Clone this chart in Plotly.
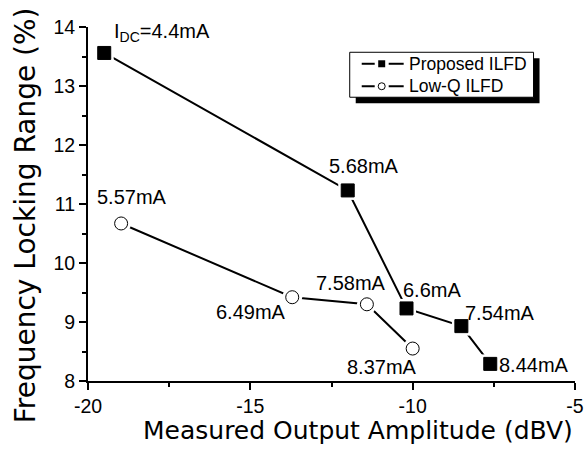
import plotly.graph_objects as go

# Measured data: output amplitude (dBV) vs. frequency locking range (%)
prop_amp = [-19.5, -12.0, -10.19, -8.5, -7.61]
prop_range = [13.56, 11.23, 9.23, 8.93, 8.29]
prop_idc = ["I<sub>DC</sub>=4.4mA", "5.68mA", "6.6mA", "7.54mA", "8.44mA"]

lowq_amp = [-18.98, -13.71, -11.41, -10.0]
lowq_range = [10.67, 9.42, 9.30, 8.55]
lowq_idc = ["5.57mA", "6.49mA", "7.58mA", "8.37mA"]

x_ticks = [-20, -15, -10, -5]
x_ticktext = ["-20", "-15", "-10", "-5"]
y_ticks = [8, 9, 10, 11, 12, 13, 14]
y_ticktext = ["8", "9", "10", "11", "12", "13", "14"]

series_names = ["Proposed ILFD", "Low-Q ILFD"]

# label offsets (pixels) relative to each point
prop_off = [(8, 20, "left"), (16, 24, "center"), (25, 18, "center"), (39, 13, "center"), (7, -1, "left")]
lowq_off = [(11, 26, "center"), (-41, -15, "center"), (-16, 21, "center"), (-31, -18, "center")]

SANS = "Liberation Sans, Arial, sans-serif"
WIDE = "DejaVu Sans"
W, H = 586, 456
L, R, T, B = 88, 10.5, 26.7, 75
pw = W - L - R
ph = H - T - B


def px(x):
    return (x - L) / pw


def py(y):
    return ((H - B) - y) / ph


fig = go.Figure()


def add_series(xs, ys, name, symbol, size, fill, halo):
    # connecting line, a white halo that leaves a small gap around each
    # point, then the point markers themselves
    fig.add_trace(go.Scatter(x=xs, y=ys, mode="lines", name=name,
                             line=dict(color="black", width=2)))
    fig.add_trace(go.Scatter(x=xs, y=ys, mode="markers", name=name,
                             marker=dict(symbol=symbol, size=halo, color="white",
                                         line=dict(width=0))))
    fig.add_trace(go.Scatter(x=xs, y=ys, mode="markers", name=name,
                             marker=dict(symbol=symbol, size=size, color=fill,
                                         line=dict(color="black", width=1))))


add_series(prop_amp, prop_range, series_names[0], "square", 13, "black", 19)
add_series(lowq_amp, lowq_range, series_names[1], "circle", 13, "white", 20)

annotations = []
for xs, ys, labels, offs in [(prop_amp, prop_range, prop_idc, prop_off),
                             (lowq_amp, lowq_range, lowq_idc, lowq_off)]:
    for x, y, t, (dx, dy, anc) in zip(xs, ys, labels, offs):
        annotations.append(dict(
            x=x, y=y, xref="x", yref="y", text=t, showarrow=False,
            xshift=dx, yshift=dy, xanchor=anc, yanchor="middle",
            font=dict(family=SANS, size=20, color="black"),
        ))

# axis titles
annotations.append(dict(
    text="Measured Output Amplitude (dBV)", xref="paper", yref="paper",
    x=px(358.3), y=py(431), showarrow=False, borderpad=0,
    xanchor="center", yanchor="middle",
    font=dict(family=WIDE, size=25, color="black"),
))
annotations.append(dict(
    text="Frequency Locking Range (%)", xref="paper", yref="paper",
    x=px(25), y=py(215), showarrow=False, textangle=-90, borderpad=0,
    xanchor="center", yanchor="middle",
    font=dict(family=WIDE, size=28, color="black"),
))

# legend box with drop shadow
bx0, by0, bx1, by1 = 350, 52, 534, 97
shapes = [
    dict(type="rect", xref="paper", yref="paper",
         x0=px(bx0 + 6), x1=px(bx1 + 6), y0=py(by1 + 6), y1=py(by0 + 6),
         fillcolor="black", line=dict(width=0), layer="above"),
    dict(type="rect", xref="paper", yref="paper",
         x0=px(bx0), x1=px(bx1), y0=py(by1), y1=py(by0),
         fillcolor="white", line=dict(color="black", width=1), layer="above"),
]
rows = [63.5, 86]
for ry, name, sym in zip(rows, series_names, ["square", "circle"]):
    for sx0, sx1 in [(362, 375), (389, 404)]:
        shapes.append(dict(type="line", xref="paper", yref="paper",
                           x0=px(sx0), x1=px(sx1), y0=py(ry), y1=py(ry),
                           line=dict(color="black", width=2), layer="above"))
    if sym == "square":
        shapes.append(dict(type="rect", xref="paper", yref="paper",
                           x0=px(378.5), x1=px(385.5), y0=py(ry + 3.5), y1=py(ry - 3.5),
                           fillcolor="black", line=dict(width=0), layer="above"))
    else:
        shapes.append(dict(type="circle", xref="paper", yref="paper",
                           x0=px(378.5), x1=px(385.5), y0=py(ry + 3.5), y1=py(ry - 3.5),
                           fillcolor="white", line=dict(color="black", width=1), layer="above"))
    annotations.append(dict(
        text=name, xref="paper", yref="paper", x=px(407), y=py(ry),
        showarrow=False, xanchor="left", yanchor="middle",
        font=dict(family=SANS, size=17.5, color="black"),
    ))

axis_common = dict(
    showgrid=False, zeroline=False, showline=True, linecolor="black", linewidth=2,
    ticks="outside", ticklen=7, tickwidth=2, tickcolor="black",
    tickfont=dict(family=SANS, size=19.5, color="black"),
    mirror=False, automargin=False,
)

fig.update_layout(
    width=W, height=H,
    margin=dict(l=L, r=R, t=T, b=B, autoexpand=False),
    paper_bgcolor="white", plot_bgcolor="white",
    showlegend=False,
    xaxis=dict(range=[-20, -5], tickmode="array", tickvals=x_ticks, ticktext=x_ticktext,
               minor=dict(dtick=2.5, tick0=-20, ticks="outside", ticklen=4, tickwidth=2,
                          tickcolor="black"),
               **axis_common),
    yaxis=dict(range=[8, 14], tickmode="array", tickvals=y_ticks, ticktext=y_ticktext,
               minor=dict(dtick=0.5, tick0=8, ticks="outside", ticklen=4, tickwidth=2,
                          tickcolor="black"),
               **axis_common),
    annotations=annotations,
    shapes=shapes,
)

fig.write_html("out.html")
